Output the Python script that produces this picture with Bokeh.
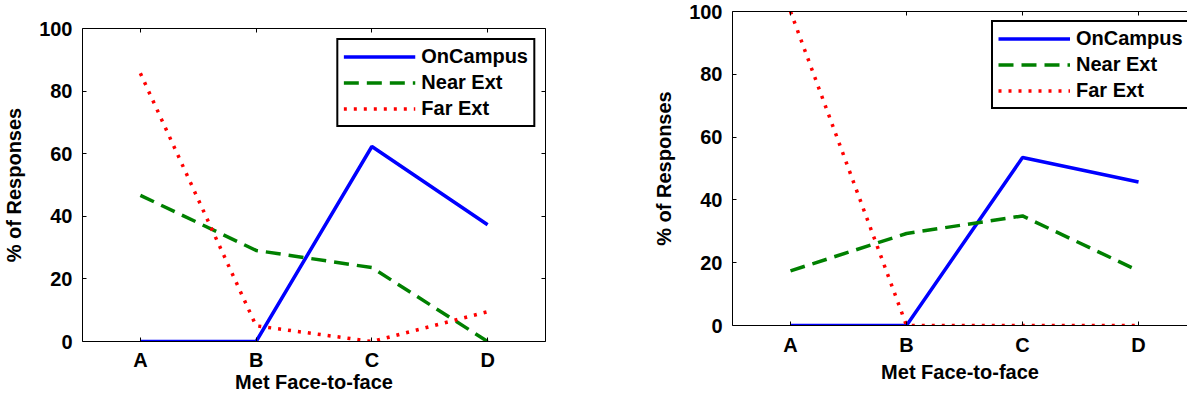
from bokeh.plotting import figure
from bokeh.models import (Legend, LegendItem, LinearAxis, SingleIntervalTicker,
                          FixedTicker, CustomJSTickFormatter, Range1d,
                          GlobalInlineStyleSheet)
from bokeh.layouts import row
from bokeh.embed import file_html
from bokeh.resources import INLINE

# ---- data ----
categories = ["A", "B", "C", "D"]
series_names = ["OnCampus", "Near Ext", "Far Ext"]

left_on_campus = [0, 0, 62.3, 37.3]
left_near_ext = [46.7, 29.1, 23.6, 0]
left_far_ext = [85.7, 5.0, 0, 9.5]

right_on_campus = [0, 0, 53.5, 45.7]
right_near_ext = [17.4, 29.3, 34.9, 17.4]
right_far_ext = [100, 0, 0, 0]

x_label = "Met Face-to-face"
y_label = "% of Responses"

FONT = "Liberation Sans"
colors = ["#0000ff", "#008000", "#ff0000"]
dashes = ["solid", "15 8", "3 7"]

x = list(range(1, len(categories) + 1))


def style_axis(ax):
    ax.axis_line_color = "black"
    ax.axis_line_width = 1
    ax.major_tick_in = 4
    ax.major_tick_out = 0
    ax.major_tick_line_color = "black"
    ax.minor_tick_line_color = None
    ax.major_label_text_font = FONT
    ax.major_label_text_font_size = "20px"
    ax.major_label_text_font_style = "bold"
    ax.major_label_text_color = "black"
    ax.axis_label_text_font = FONT
    ax.axis_label_text_font_size = "20px"
    ax.axis_label_text_font_style = "bold"
    ax.axis_label_text_color = "black"


def make_panel(values, width, borders, x_end, legend_loc, legend_margin,
               right_axis, x_standoffs):
    bl, br, bt, bb = borders
    p = figure(width=width, height=396, output_backend="svg", toolbar_location=None,
               x_range=Range1d(0.5, x_end), y_range=Range1d(0, 100),
               x_axis_type=None, y_axis_type=None,
               min_border_left=bl, min_border_right=br,
               min_border_top=bt, min_border_bottom=bb)
    p.frame_align = False
    p.outline_line_color = None
    p.background_fill_color = "white"
    p.border_fill_color = "white"

    xticker = FixedTicker(ticks=x)
    overrides = {i: c for i, c in zip(x, categories)}

    bottom_ax = LinearAxis(ticker=xticker, major_label_overrides=overrides,
                           axis_label=x_label)
    style_axis(bottom_ax)
    bottom_ax.major_label_standoff = x_standoffs[0]
    bottom_ax.axis_label_standoff = x_standoffs[1]
    p.add_layout(bottom_ax, "below")

    left_ax = LinearAxis(ticker=SingleIntervalTicker(interval=20), axis_label=y_label)
    style_axis(left_ax)
    left_ax.major_label_standoff = 6
    left_ax.axis_label_standoff = 11
    p.add_layout(left_ax, "left")

    top_ax = LinearAxis(ticker=FixedTicker(ticks=x),
                        formatter=CustomJSTickFormatter(code="return ''"))
    style_axis(top_ax)
    top_ax.major_label_text_font_size = "0px"
    top_ax.major_label_standoff = 0
    p.add_layout(top_ax, "above")

    if right_axis:
        right_ax = LinearAxis(ticker=SingleIntervalTicker(interval=20),
                              formatter=CustomJSTickFormatter(code="return ''"))
        style_axis(right_ax)
        right_ax.major_label_text_font_size = "0px"
        right_ax.major_label_standoff = 0
        p.add_layout(right_ax, "right")

    renderers = []
    for vals, c, d in zip(values, colors, dashes):
        r = p.line(x, vals, line_color=c, line_width=3.5, line_dash=d)
        renderers.append(r)

    legend = Legend(items=[LegendItem(label=n, renderers=[r])
                           for n, r in zip(series_names, renderers)],
                    location=legend_loc)
    legend.margin = legend_margin
    legend.border_line_color = "black"
    legend.border_line_alpha = 1
    legend.border_line_width = 2.5
    legend.background_fill_color = "white"
    legend.background_fill_alpha = 1
    legend.label_text_font = FONT
    legend.label_text_font_size = "20px"
    legend.label_text_font_style = "bold"
    legend.label_text_color = "black"
    legend.glyph_width = 72
    legend.glyph_height = 23
    legend.label_height = 23
    legend.label_standoff = 6
    legend.spacing = 3
    legend.padding = 5
    p.add_layout(legend)
    return p


p1 = make_panel([left_on_campus, left_near_ext, left_far_ext], 600,
                (80, 55, 28, 55), 4.5, "top_right", 10, True, (7, -3))
p2 = make_panel([right_on_campus, right_near_ext, right_far_ext], 587,
                (132, 0, 11, 71), 4.422, (259, 216), 0, False, (8, 2))

layout = row(p1, p2,
             stylesheets=[GlobalInlineStyleSheet(css="html, body { margin: 0; padding: 0; overflow: hidden; }")])

open("out.html", "w").write(file_html(layout, INLINE))
